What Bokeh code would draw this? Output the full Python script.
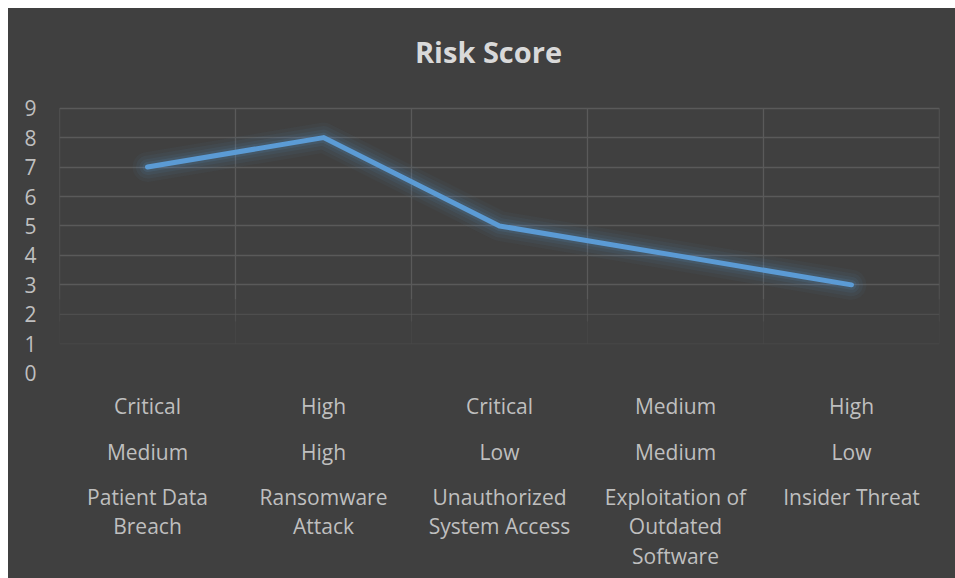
from bokeh.plotting import figure
from bokeh.models import FactorRange, Range1d, FixedTicker
from bokeh.core.properties import value
from bokeh.embed import file_html
from bokeh.resources import INLINE

# ---- data ----
threats = ["Patient Data Breach", "Ransomware Attack", "Unauthorized System Access",
           "Exploitation of Outdated Software", "Insider Threat"]
threat_labels = ["Patient Data\nBreach", "Ransomware\nAttack", "Unauthorized\nSystem Access",
                 "Exploitation of\nOutdated\nSoftware", "Insider Threat"]
likelihood = ["Medium", "High", "Low", "Medium", "Low"]
impact = ["Critical", "High", "Critical", "Medium", "High"]
risk_score = [7, 8, 5, 4, 3]
y_ticks = [0, 1, 2, 3, 4, 5, 6, 7, 8, 9]
chart_title = "Risk Score"

BG = "#404040"
GRID = "#5a5a5a"
LINE = "#5b9bd5"
TXT = "#bfbfbf"
FONT = "Open Sans"

# screen geometry (absolute pixels in the window)
px_per_unit = 29.45
zero_px = 372.7
top_px = 8          # canvas top
bottom_px = 578     # canvas bottom
y_end = 0 + (zero_px - top_px) / px_per_unit
y_start = 0 - (bottom_px - zero_px) / px_per_unit


def y_at(px):
    return (zero_px - px) / px_per_unit


p = figure(width=947, height=570, output_backend="svg", toolbar_location=None,
           x_range=FactorRange(*threats, range_padding=0),
           y_range=Range1d(y_start, y_end),
           min_border_left=51, min_border_right=16, min_border_top=0,
           min_border_bottom=0)
p.margin = (8, 0, 0, 8)
p.styles = {"background-color": BG}
p.background_fill_color = BG
p.border_fill_color = BG
p.outline_line_color = None

p.xaxis.visible = False
p.xgrid.grid_line_color = None

p.yaxis.ticker = FixedTicker(ticks=y_ticks)
p.yaxis.axis_line_color = None
p.yaxis.major_tick_line_color = None
p.yaxis.minor_tick_line_color = None
p.yaxis.major_tick_out = 0
p.yaxis.major_tick_in = 0
p.yaxis.major_label_standoff = 23
p.yaxis.major_label_text_color = TXT
p.yaxis.major_label_text_font = FONT
p.yaxis.major_label_text_font_size = "21px"

p.ygrid.ticker = FixedTicker(ticks=[t for t in y_ticks if t >= 3])
p.ygrid.grid_line_color = GRID
p.ygrid.grid_line_width = 1.3

n = len(threats)
# faint lower gridlines (fading)
p.segment(x0=[0, 0], y0=[2, 1], x1=[n, n], y1=[2, 1], line_color=GRID,
          line_alpha=[0.55, 0.2], line_width=1.3)
# vertical category separators
sep = list(range(n + 1))
p.segment(x0=sep, y0=[9] * (n + 1), x1=sep, y1=[2.5] * (n + 1), line_color=GRID, line_width=1.3)
p.segment(x0=sep, y0=[2.5] * (n + 1), x1=sep, y1=[1.75] * (n + 1), line_color=GRID,
          line_width=1.3, line_alpha=0.55)
p.segment(x0=sep, y0=[1.75] * (n + 1), x1=sep, y1=[1.0] * (n + 1), line_color=GRID,
          line_width=1.3, line_alpha=0.2)

# glow
for w, a in [(30, 0.045), (23, 0.06), (16, 0.08), (10, 0.12)]:
    p.line(threats, risk_score, line_color=LINE, line_width=w, line_alpha=a,
           line_join="round", line_cap="round")
p.line(threats, risk_score, line_color=LINE, line_width=5, line_join="round", line_cap="round")

# title
p.text(x=[(488 - 59) / 176], y=[y_at(51)], text=[chart_title], text_align="center",
       text_baseline="middle", text_color="#d9d9d9", text_font=value(FONT),
       text_font_size="29px", text_font_style="bold")

# category labels (3 levels)
p.text(x=threats, y=[y_at(405)] * n, text=impact, text_align="center", text_baseline="middle",
       text_color=TXT, text_font=value(FONT), text_font_size="21px")
p.text(x=threats, y=[y_at(451)] * n, text=likelihood, text_align="center", text_baseline="middle",
       text_color=TXT, text_font=value(FONT), text_font_size="21px")
p.text(x=threats, y=[y_at(482)] * n, text=threat_labels, text_align="center", text_baseline="top",
       text_color=TXT, text_font=value(FONT), text_font_size="21px", text_line_height=1.06)

open("out.html", "w").write(file_html(p, INLINE))
